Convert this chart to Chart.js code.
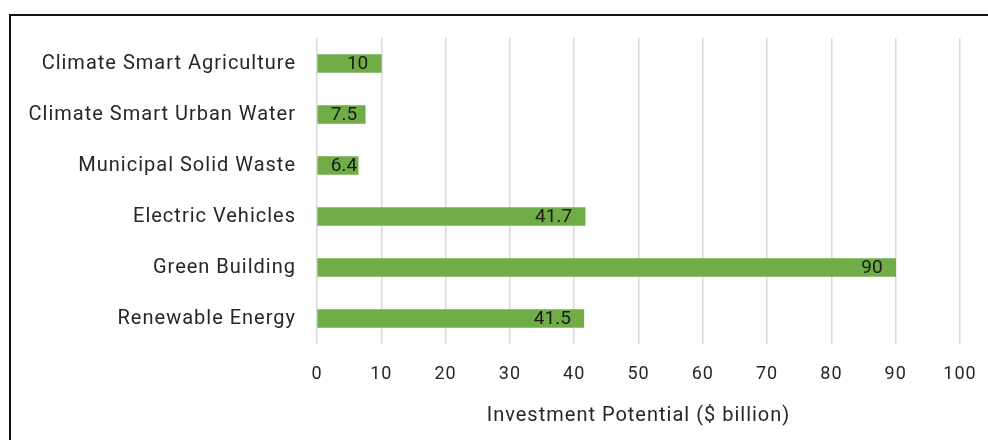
<!DOCTYPE html>
<html>
<head>
<meta charset="utf-8">
<script src="https://cdn.jsdelivr.net/npm/chart.js@4"></script>
<style>
  html, body { margin: 0; padding: 0; background: #fff; }
  #wrap { position: relative; width: 988px; height: 440px; overflow: hidden; }
  #frame { position: absolute; left: 9px; top: 14px; width: 1000px; height: 500px;
           border-top: 2px solid #111; border-left: 2px solid #111; }
  canvas { position: absolute; left: 0; top: 0; }
</style>
</head>
<body>
<div id="wrap">
  <div id="frame"></div>
  <canvas id="chart" width="988" height="440"></canvas>
</div>
<script>
const categories = [
    'Climate Smart Agriculture',
    'Climate Smart Urban Water',
    'Municipal Solid Waste',
    'Electric Vehicles',
    'Green Building',
    'Renewable Energy'
];
const investment = [10, 7.5, 6.4, 41.7, 90, 41.5];
const axisTitle = 'Investment Potential ($ billion)';

const FONT = 'Roboto, "DejaVu Sans", sans-serif';

// the original font is a wide DIN style, so space the letters out a bit
const spacing = {
    id: 'spacing',
    beforeUpdate(chart) { chart.ctx.letterSpacing = '1px'; },
    beforeDraw(chart) { chart.ctx.letterSpacing = '1px'; }
};

// labels drawn inside the end of each bar, like the Excel original
const barLabels = {
    id: 'barLabels',
    afterDatasetsDraw(chart) {
        const ctx = chart.ctx;
        const meta = chart.getDatasetMeta(0);
        ctx.save();
        ctx.letterSpacing = '0px';
        ctx.font = '19px ' + FONT;
        ctx.fillStyle = '#1a1a1a';
        ctx.textAlign = 'right';
        ctx.textBaseline = 'middle';
        meta.data.forEach((bar, i) => {
            const txt = String(investment[i]);
            const w = ctx.measureText(txt).width;
            // short bars: keep the label off the bar's start
            const x = Math.max(bar.x - 13, bar.base + 13 + w);
            ctx.fillText(txt, x, bar.y + 1);
        });
        ctx.restore();
    }
};

const ctx = document.getElementById('chart').getContext('2d');
const myChart = new Chart(ctx, {
    type: 'bar',
    data: {
        labels: categories,
        datasets: [{
            data: investment,
            backgroundColor: '#70ad47',
            borderWidth: 0,
            barThickness: 18
        }]
    },
    options: {
        indexAxis: 'y',
        responsive: false,
        animation: false,
        layout: { padding: { top: 38, right: 28, bottom: 0, left: 0 } },
        plugins: {
            legend: { display: false },
            tooltip: { enabled: false }
        },
        scales: {
            x: {
                min: 0,
                max: 100,
                ticks: { stepSize: 10, color: '#262626', padding: 20, font: { family: FONT, size: 18 } },
                grid: { color: '#d9d9d9', lineWidth: 1.5, drawTicks: false },
                border: { display: false },
                title: {
                    display: true,
                    text: axisTitle,
                    color: '#262626',
                    font: { family: FONT, size: 20 },
                    padding: { top: 0, bottom: 12 }
                },
                afterFit: (s) => { s.height = 96; s.paddingLeft = 0; s.paddingRight = 0; }
            },
            y: {
                ticks: { color: '#262626', padding: 13, font: { family: FONT, size: 20 } },
                grid: { display: false },
                border: { display: false },
                afterFit: (s) => { s.width = 317; }
            }
        }
    },
    plugins: [spacing, barLabels]
});
</script>
</body>
</html>
